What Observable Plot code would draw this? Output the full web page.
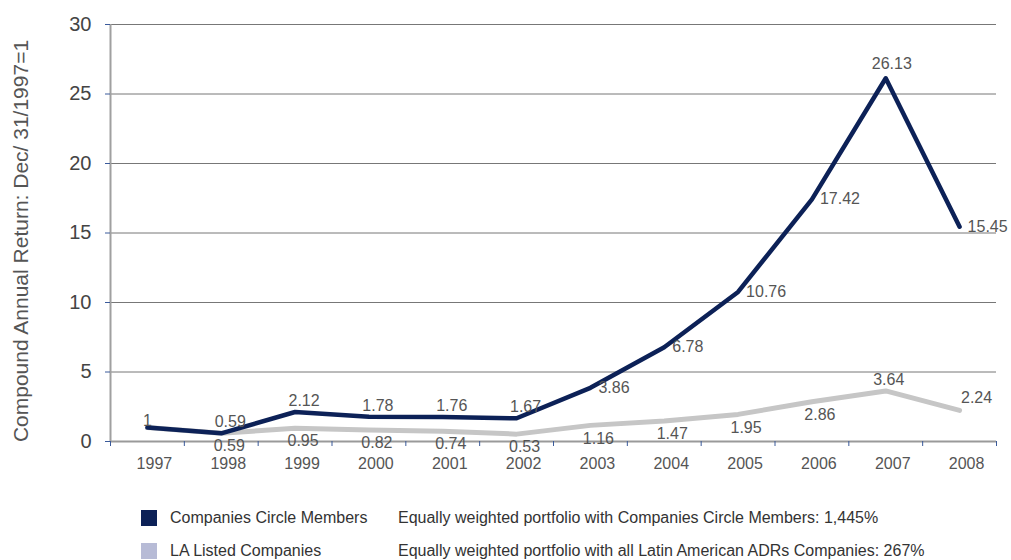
<!DOCTYPE html>
<html>
<head>
<meta charset="utf-8">
<script src="https://cdn.jsdelivr.net/npm/d3@7"></script>
<script src="https://cdn.jsdelivr.net/npm/@observablehq/plot@0.6"></script>
<style>
  html, body { margin: 0; padding: 0; background: #fff; }
  #wrap { position: relative; width: 1011px; height: 560px; font-family: "Liberation Sans", Arial, sans-serif; }
  #chart { position: absolute; left: 0; top: 0; }
  .leg { position: absolute; font-size: 16px; color: #333; white-space: nowrap; line-height: 20px; }
  .sw { position: absolute; width: 16px; height: 16px; }
</style>
</head>
<body>
<div id="wrap">
  <div id="chart"></div>
</div>
<script>
const years = [1997, 1998, 1999, 2000, 2001, 2002, 2003, 2004, 2005, 2006, 2007, 2008];
const circleMembers = [1, 0.59, 2.12, 1.78, 1.76, 1.67, 3.86, 6.78, 10.76, 17.42, 26.13, 15.45];
const laListed = [1, 0.59, 0.95, 0.82, 0.74, 0.53, 1.16, 1.47, 1.95, 2.86, 3.64, 2.24];
const seriesNames = ["Companies Circle Members", "LA Listed Companies"];
const seriesNotes = [
  "Equally weighted portfolio with Companies Circle Members: 1,445%",
  "Equally weighted portfolio with all Latin American ADRs Companies: 267%"
];
const yTicks = [0, 5, 10, 15, 20, 25, 30];
const yTitle = "Compound Annual Return: Dec/ 31/1997=1";

const navy = "#0c2157";
const lightGray = "#c6c6c6";
const swatchColors = [navy, "#b7bbd6"];

const blue = years.map((year, i) => ({year, value: circleMembers[i], i}));
const gray = years.map((year, i) => ({year, value: laListed[i], i}));
const boundaries = years.map(y => y - 0.5).concat([years[years.length - 1] + 0.5]);

const blueFirst = blue.filter(d => d.i === 0);
const blueAbove = blue.filter(d => d.i >= 1 && d.i <= 5);
const blueRight = blue.filter(d => d.i >= 6 && d.i !== 10);
const bluePeak = blue.filter(d => d.i === 10);
const grayBelow = gray.filter(d => d.i >= 1 && d.i <= 9);
const grayPeak = gray.filter(d => d.i === 10);
const grayLast = gray.filter(d => d.i === 11);

const labelStyle = {fontSize: 16, fill: "#555", text: d => String(d.value)};

const chart = Plot.plot({
  width: 1011,
  height: 480,
  marginLeft: 110,
  marginRight: 15,
  marginTop: 24,
  marginBottom: 39,
  style: {fontFamily: "Liberation Sans, Arial, sans-serif", background: "#fff"},
  x: {type: "linear", domain: [boundaries[0], boundaries[boundaries.length - 1]]},
  y: {domain: [0, 30]},
  marks: [
    Plot.ruleY(yTicks.filter(t => t > 0), {stroke: "#777", strokeWidth: 1, strokeOpacity: 1}),
    Plot.ruleY([0], {stroke: "#9a9a9a", strokeWidth: 2}),
    Plot.ruleX([boundaries[0]], {stroke: "#a0a0a0", strokeWidth: 2}),
    Plot.axisY({ticks: yTicks, tickSize: 5, tickPadding: 14, stroke: "#3a5a9a", fontSize: 20, color: "#444", label: null, tickFormat: d => String(d)}),
    Plot.axisX({ticks: boundaries, tickSize: 5, tickFormat: () => "", stroke: "#3a5a9a", label: null}),
    Plot.axisX({ticks: years, tickSize: 0, tickPadding: 16, dx: 7, fontSize: 16, color: "#555", tickFormat: d => String(d), label: null}),
    Plot.text([yTitle], {frameAnchor: "left", textAnchor: "middle", rotate: -90, dx: -89, dy: 8, fontSize: 21, fill: "#555"}),
    Plot.line(gray, {x: "year", y: "value", stroke: lightGray, strokeWidth: 5}),
    Plot.line(blue, {x: "year", y: "value", stroke: navy, strokeWidth: 4.5}),
    Plot.text(blueFirst, {x: "year", y: "value", dx: 0, dy: -7, ...labelStyle}),
    Plot.text(blueAbove, {x: "year", y: "value", dx: 9, dy: -11, ...labelStyle}),
    Plot.text(blueRight, {x: "year", y: "value", dx: 8, dy: 0, textAnchor: "start", ...labelStyle}),
    Plot.text(bluePeak, {x: "year", y: "value", dx: 6, dy: -14, ...labelStyle}),
    Plot.text(grayBelow, {x: "year", y: "value", dx: 8, dy: 13, ...labelStyle}),
    Plot.text(grayPeak, {x: "year", y: "value", dx: 3, dy: -11, ...labelStyle}),
    Plot.text(grayLast, {x: "year", y: "value", dx: 17, dy: -12, ...labelStyle})
  ]
});
document.getElementById("chart").appendChild(chart);

const wrap = document.getElementById("wrap");
const rowTops = [510, 543];
seriesNames.forEach((name, i) => {
  const sw = document.createElement("div");
  sw.className = "sw";
  sw.style.left = "141px";
  sw.style.top = rowTops[i] + "px";
  sw.style.background = swatchColors[i];
  wrap.appendChild(sw);
  const t1 = document.createElement("div");
  t1.className = "leg";
  t1.style.left = "170px";
  t1.style.top = (rowTops[i] - 2) + "px";
  t1.textContent = name;
  wrap.appendChild(t1);
  const t2 = document.createElement("div");
  t2.className = "leg";
  t2.style.left = "398px";
  t2.style.top = (rowTops[i] - 2) + "px";
  t2.textContent = seriesNotes[i];
  wrap.appendChild(t2);
});
</script>
</body>
</html>
